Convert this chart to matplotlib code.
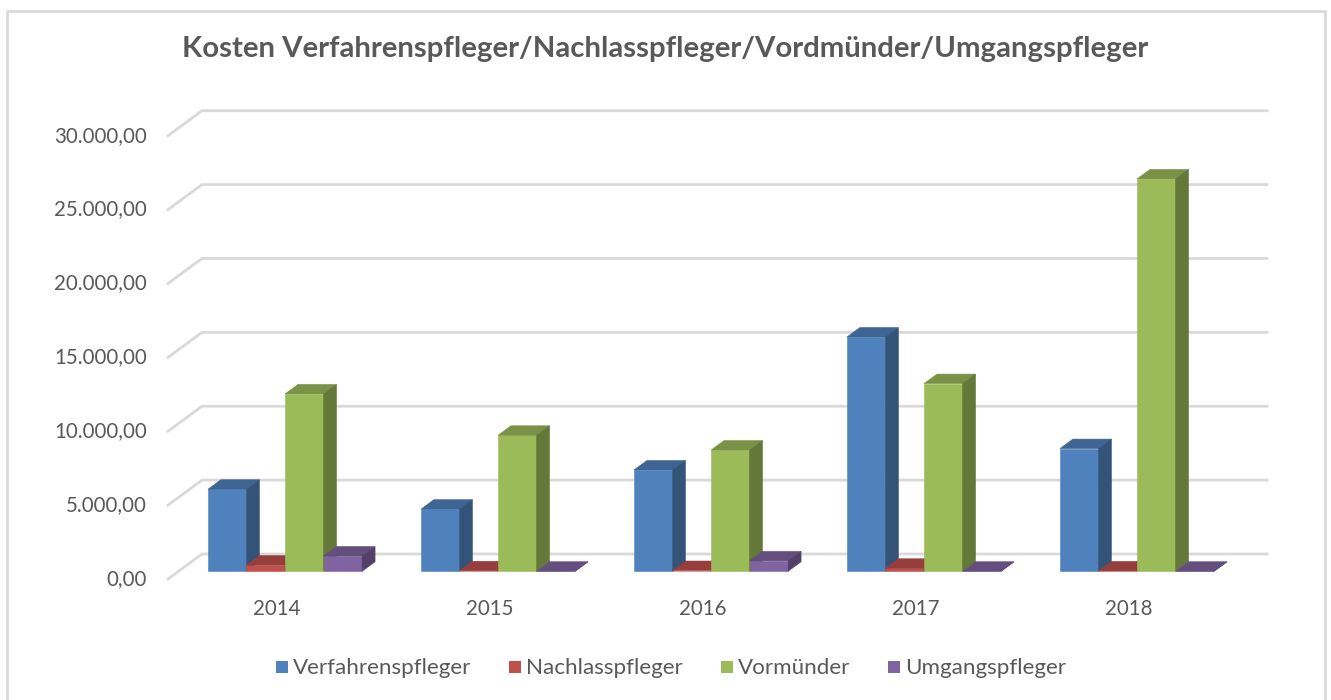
import matplotlib
matplotlib.use('Agg')
import matplotlib.pyplot as plt
from matplotlib.patches import Polygon, Rectangle
from matplotlib.lines import Line2D
import numpy as np

# ---------------- data ----------------
years = ['2014', '2015', '2016', '2017', '2018']
series_names = ['Verfahrenspfleger', 'Nachlasspfleger', 'Vormünder', 'Umgangspfleger']
verfahrenspfleger = [5550, 4200, 6850, 15850, 8300]
nachlasspfleger = [420, 30, 50, 200, 20]
vormuender = [12000, 9200, 8200, 12700, 26550]
umgangspfleger = [1030, 0, 700, 0, 0]
y_ticks = [0, 5000, 10000, 15000, 20000, 25000, 30000]
y_tick_labels = ['0,00', '5.000,00', '10.000,00', '15.000,00', '20.000,00', '25.000,00', '30.000,00']
title = 'Kosten Verfahrenspfleger/Nachlasspfleger/Vordmünder/Umgangspfleger'
colors = ['#4F81BD', '#C0504D', '#9BBB59', '#8064A2']

all_series = [verfahrenspfleger, nachlasspfleger, vormuender, umgangspfleger]

# ---------------- layout (pixels) ----------------
W, H = 1331, 700
FONT = 'Lato'
TXT = '#595959'
GRID = '#D9D9D9'

fig = plt.figure(figsize=(W / 100, H / 100), dpi=100)
ax = fig.add_axes([0, 0, 1, 1])
ax.set_axis_off()

# back wall: x=0..5 maps px 202..1267; value 0 at row 554, 30000 at row 110.7
PX0, PXW = 202.0, 213.0
ROW0, ROWTOP = 554.0, 110.7
VPP = 30000.0 / (ROW0 - ROWTOP)   # value per pixel


def X(p):
    return (p - PX0) / PXW


def V(r):
    return (ROW0 - r) * VPP


ax.set_xlim(X(0), X(W))
ax.set_ylim(V(H), V(0))

DEPTH_DX, DEPTH_DY = 34.0, 25.0   # full floor depth in px


def off(d):
    return (-DEPTH_DX * d / PXW, -DEPTH_DY * d * VPP)


# gridlines (back wall + left wall)
ncat = len(years)
fx1, fy1 = off(1.0)
for v in y_ticks:
    ax.plot([fx1, 0, ncat], [v + fy1, v, v], color=GRID, lw=2.0,
            solid_joinstyle='miter', zorder=1)

# y labels
for v, lab in zip(y_ticks, y_tick_labels):
    ax.text(X(147), v + fy1, lab, ha='right', va='center', fontsize=14.8,
            family=FONT, color=TXT)

# category labels
for k, yr in enumerate(years):
    ax.text(k + 0.5 + fx1 + 2 / PXW, V(609), yr, ha='center', va='center', fontsize=14.8,
            family=FONT, color=TXT)


def shade(c, f):
    r, g, b = matplotlib.colors.to_rgb(c)
    return (r * f, g * f, b * f)


# bars
nser = len(all_series)
bw = 0.181
margin = (1 - nser * bw) / 2
d_front, d_back = 0.69, 0.31
fx, fy = off(d_front)
bx, by = off(d_back)
z = 3
for k in range(ncat):
    for i in range(nser):
        v = all_series[i][k]
        c = colors[i]
        x0 = k + margin + i * bw
        front = [(x0 + fx, fy), (x0 + bw + fx, fy), (x0 + bw + fx, v + fy), (x0 + fx, v + fy)]
        top = [(x0 + fx, v + fy), (x0 + bw + fx, v + fy), (x0 + bw + bx, v + by), (x0 + bx, v + by)]
        side = [(x0 + bw + fx, fy), (x0 + bw + bx, by), (x0 + bw + bx, v + by), (x0 + bw + fx, v + fy)]
        for poly, f in ((front, 1.0), (top, 0.78), (side, 0.64)):
            col = shade(c, f)
            ax.add_patch(Polygon(poly, closed=True, facecolor=col, edgecolor=col,
                                 lw=0.4, zorder=z))
            z += 0.001

# title
t = fig.text(0.5, 1 - 56.7 / H, title, ha='center', va='baseline', fontsize=20,
             fontweight='bold', family=FONT, color=TXT)
fig.canvas.draw()
r = fig.canvas.get_renderer()
bb = t.get_window_extent(r)
t.set_fontsize(20 * 968.0 / bb.width)

# legend (manual, centered, sized to span px 278..1064)
leg_y = 667.0
sq = 12.0
pad = 5.0
gap = 38.0
leg_left, leg_right = 278.0, 1064.0
texts = []
for name in series_names:
    tt = fig.text(0, 0, name, fontsize=14.8, family=FONT, color=TXT, va='center', ha='left')
    texts.append(tt)
fig.canvas.draw()
sum_w = sum(tt.get_window_extent(r).width for tt in texts)
target = (leg_right - leg_left) - len(texts) * (sq + pad) - gap * (len(texts) - 1)
fs = 14.8 * target / sum_w
for tt in texts:
    tt.set_fontsize(fs)
fig.canvas.draw()
widths = [tt.get_window_extent(r).width for tt in texts]
total = sum(sq + pad + w_ for w_ in widths) + gap * (len(widths) - 1)
xcur = (leg_left + leg_right) / 2 - total / 2
for tt, w_, c in zip(texts, widths, colors):
    fig.patches.append(Rectangle((xcur / W, 1 - (leg_y + sq / 2) / H), sq / W, sq / H,
                                 transform=fig.transFigure, facecolor=c, edgecolor='none'))
    tt.set_position(((xcur + sq + pad) / W, 1 - (leg_y + 1) / H))
    xcur += sq + pad + w_ + gap

# outer border
bl, bt, br = 7.0, 11.0, 1325.0
fig.lines.append(Line2D([bl / W, bl / W, br / W, br / W], [0, 1 - bt / H, 1 - bt / H, 0],
                        transform=fig.transFigure, color=GRID, lw=2.0))

fig.savefig('out.png', dpi=100)
